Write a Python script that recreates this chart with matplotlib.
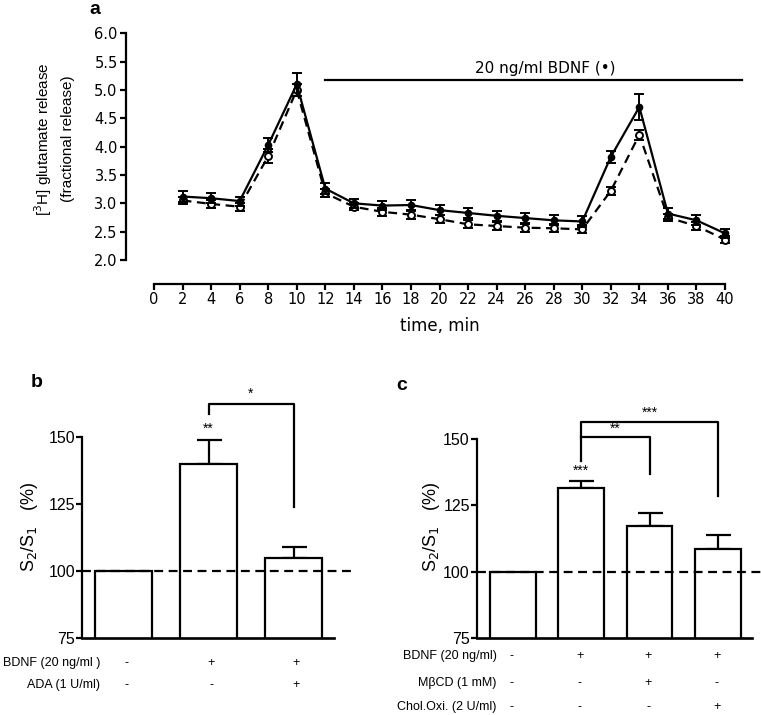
import matplotlib
matplotlib.use("Agg")
import matplotlib.pyplot as plt
import matplotlib.transforms as mtransforms
import numpy as np

plt.rcParams['font.family'] = ['Liberation Sans', 'DejaVu Sans']

# ---------------- data ----------------
time_min = [2, 4, 6, 8, 10, 12, 14, 16, 18, 20, 22, 24, 26, 28, 30, 32, 34, 36, 38, 40]
bdnf_release = [3.12, 3.09, 3.04, 4.03, 5.10, 3.26, 3.00, 2.96, 2.97, 2.88, 2.83, 2.78, 2.74, 2.70, 2.68, 3.82, 4.70, 2.82, 2.70, 2.47]
bdnf_err = [0.09, 0.09, 0.08, 0.12, 0.20, 0.09, 0.08, 0.08, 0.09, 0.09, 0.09, 0.09, 0.09, 0.09, 0.09, 0.10, 0.23, 0.09, 0.09, 0.08]
ctrl_release = [3.05, 2.99, 2.94, 3.83, 5.00, 3.18, 2.94, 2.85, 2.80, 2.72, 2.63, 2.60, 2.57, 2.56, 2.54, 3.22, 4.21, 2.75, 2.60, 2.36]
ctrl_err = [0.07, 0.07, 0.07, 0.12, 0.10, 0.07, 0.06, 0.07, 0.07, 0.07, 0.07, 0.07, 0.07, 0.07, 0.07, 0.07, 0.09, 0.07, 0.07, 0.06]
a_xticks = list(range(0, 41, 2))
a_yticks = [2.0, 2.5, 3.0, 3.5, 4.0, 4.5, 5.0, 5.5, 6.0]

b_values = [100, 140, 105]
b_err = [0, 9, 4]
b_row_labels = ["BDNF (20 ng/ml )", "ADA (1 U/ml)"]
b_rows = [["-", "+", "+"], ["-", "-", "+"]]

c_values = [100, 131.5, 117.2, 108.5]
c_err = [0, 2.8, 5.0, 5.3]
c_row_labels = ["BDNF (20 ng/ml)", "M\u03b2CD (1 mM)", "Chol.Oxi. (2 U/ml)"]
c_rows = [["-", "+", "+", "+"], ["-", "-", "+", "-"], ["-", "-", "-", "+"]]

bar_yticks = [75, 100, 125, 150]

# ---------------- figure ----------------
W, H = 761, 715
fig = plt.figure(figsize=(W / 100, H / 100), dpi=100)

def axes_px(x0, x1, ytop, ybot):
    return fig.add_axes([x0 / W, (H - ybot) / H, (x1 - x0) / W, (ybot - ytop) / H])

LW = 1.6
WIDE = ['DejaVu Sans']

# ---------------- panel a ----------------
axa = axes_px(126, 745, 33.3, 260)
pxu = (725 - 154) / 40.0
axa.set_xlim(-(154 - 126) / pxu, (745 - 154) / pxu)
axa.set_ylim(2.0, 6.0)
for s in ['top', 'right']:
    axa.spines[s].set_visible(False)
axa.spines['left'].set_linewidth(LW)
axa.spines['bottom'].set_linewidth(LW)
axa.spines['bottom'].set_position(('outward', 17))
axa.spines['bottom'].set_bounds(0, 40)
axa.set_xticks(a_xticks)
axa.set_yticks(a_yticks)
axa.set_yticklabels([f"{v:.1f}" for v in a_yticks])
axa.tick_params(width=LW, length=4, pad=2)
for lab in axa.get_xticklabels() + axa.get_yticklabels():
    lab.set_family(WIDE)
    lab.set_fontsize(10.5)

axa.errorbar(time_min, ctrl_release, yerr=ctrl_err, fmt='o', ls='--', color='black',
             mfc='white', mec='black', ms=5, mew=1.4, lw=1.6, capsize=3.5, capthick=1.4,
             elinewidth=1.4, dashes=(4, 2.5), clip_on=False, zorder=3)
axa.errorbar(time_min, bdnf_release, yerr=bdnf_err, fmt='o', ls='-', color='black',
             mfc='black', mec='black', ms=4.5, lw=1.6, capsize=3.5, capthick=1.4,
             elinewidth=1.4, clip_on=False, zorder=4)

axa.plot([12, 41.2], [5.18, 5.18], color='black', lw=1.6, clip_on=False)
axa.text(27.4, 5.25, "20 ng/ml BDNF (\u2022)", ha='center', va='bottom', fontsize=11,
         family=WIDE)

fig.text(43 / W, 1 - 139 / H, "[$^3$H] glutamate release", rotation=90,
         ha='center', va='center', fontsize=11)
fig.text(68 / W, 1 - 139 / H, "(fractional release)", rotation=90,
         ha='center', va='center', fontsize=11)
fig.text(440 / W, 1 - 326 / H, "time, min", ha='center', va='center', fontsize=12,
         family=WIDE)
fig.text(95 / W, 1 - 10 / H, "a", ha='center', va='center', fontsize=14, fontweight='bold')

# ---------------- helper for bar panels ----------------
def bar_panel(ax, values, errs, xmin, xmax, spine_end):
    x = np.arange(len(values))
    ax.bar(x, values, width=0.67, bottom=0, color='white', edgecolor='black',
           linewidth=LW, zorder=2)
    ax.errorbar(x[1:], values[1:], yerr=[np.zeros(len(values) - 1), errs[1:]],
                fmt='none', ecolor='black', elinewidth=LW, capsize=9, capthick=LW, zorder=1)
    ax.set_xlim(xmin, xmax)
    ax.set_ylim(75, 150)
    for s in ['top', 'right']:
        ax.spines[s].set_visible(False)
    ax.spines['left'].set_linewidth(LW)
    ax.spines['bottom'].set_linewidth(LW * 1.2)
    ax.spines['bottom'].set_bounds(xmin, spine_end)
    ax.set_xticks([])
    ax.set_yticks(bar_yticks)
    ax.tick_params(axis='y', width=LW, length=4, labelsize=11.5, pad=1)
    ax.axhline(100, color='black', lw=1.6, ls=(0, (4, 2.5)), zorder=5, clip_on=False,
               xmin=0, xmax=1)
    return x

# ---------------- panel b ----------------
axb = axes_px(82, 352, 437.3, 637.7)
bu = 85.0
bx = bar_panel(axb, b_values, b_err, -(123.5 - 82) / bu, (352 - 123.5) / bu, (334 - 123.5) / bu)
axb.plot([bx[1], bx[1], bx[2], bx[2]], [158.7, 162.4, 162.4, 123.8], color='black',
         lw=1.6, clip_on=False)
axb.text((bx[1] + bx[2]) / 2, 163.5, "*", ha='center', va='bottom', fontsize=10)
axb.text(bx[1], 150.5, "**", ha='center', va='bottom', fontsize=10)
tb = mtransforms.blended_transform_factory(axb.transData, axb.transAxes)
row_y_b = [-0.126, -0.236]
for lab, row, yy in zip(b_row_labels, b_rows, row_y_b):
    axb.text(-0.276, yy, lab, transform=tb, ha='right', va='center', fontsize=9)
    for xi, s in zip(bx, row):
        axb.text(xi + 0.03, yy, s, transform=tb, ha='center', va='center', fontsize=9)
fig.text(29 / W, 1 - 527 / H, "S$_2$/S$_1$   (%)", rotation=90, ha='center', va='center',
         fontsize=13)
fig.text(37 / W, 1 - 382 / H, "b", ha='center', va='center', fontsize=14, fontweight='bold')

# ---------------- panel c ----------------
axc = axes_px(476.7, 761, 439.3, 637.7)
cu = 68.3
cx = bar_panel(axc, c_values, c_err, -(513 - 476.7) / cu, (761 - 513) / cu, (751.7 - 513) / cu)
axc.plot([cx[1], cx[1], cx[3], cx[3]], [141.9, 156.7, 156.7, 128.6], color='black',
         lw=1.6, clip_on=False)
axc.plot([cx[1], cx[2], cx[2]], [151.0, 151.0, 136.8], color='black', lw=1.6, clip_on=False)
axc.text((cx[1] + cx[2]) / 2, 151.5, "**", ha='center', va='bottom', fontsize=10)
axc.text((cx[1] + cx[3]) / 2, 157.2, "***", ha='center', va='bottom', fontsize=10)
axc.text(cx[1], 135.5, "***", ha='center', va='bottom', fontsize=10)
tc = mtransforms.blended_transform_factory(axc.transData, axc.transAxes)
row_y_c = [-0.092, -0.228, -0.348]
for lab, row, yy in zip(c_row_labels, c_rows, row_y_c):
    axc.text(-0.239, yy, lab, transform=tc, ha='right', va='center', fontsize=9)
    for xi, s in zip(cx, row):
        axc.text(xi - 0.02, yy, s, transform=tc, ha='center', va='center', fontsize=9)
fig.text(431 / W, 1 - 527 / H, "S$_2$/S$_1$   (%)", rotation=90, ha='center', va='center',
         fontsize=13)
fig.text(402 / W, 1 - 385 / H, "c", ha='center', va='center', fontsize=14, fontweight='bold')

fig.savefig("out.png", dpi=100)
